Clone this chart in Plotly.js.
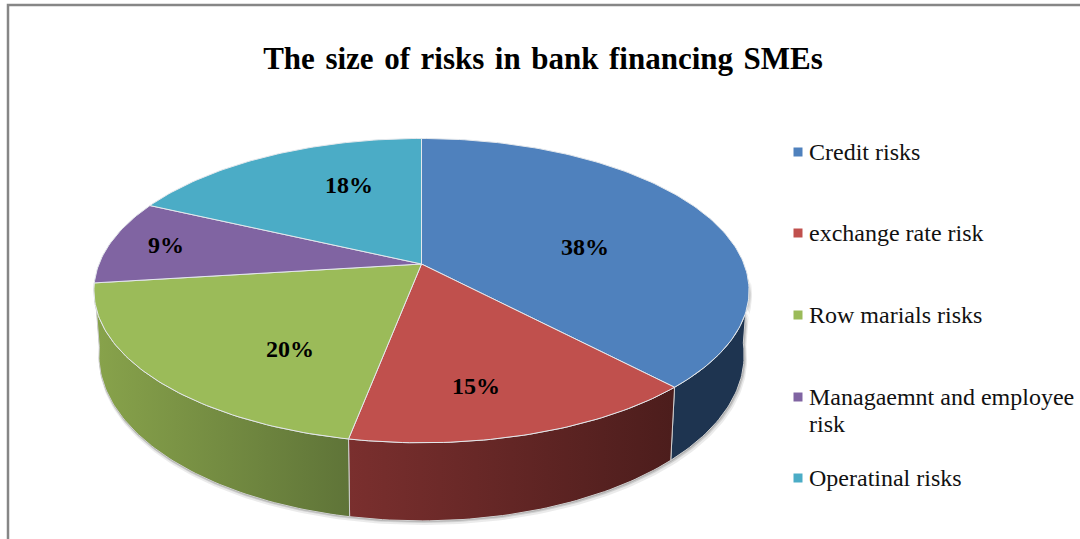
<!DOCTYPE html>
<html>
<head>
<meta charset="utf-8">
<script src="https://cdn.plot.ly/plotly-3.0.1.min.js"></script>
<style>
html,body{margin:0;padding:0;background:#fff}
#chart{width:1080px;height:539px}
.gtitle{word-spacing:2.8px}
</style>
</head>
<body>
<div id="chart"></div>
<script>
// Share of each risk type, in percent
const categories = ['Credit risks', 'exchange rate risk', 'Row marials risks', 'Managaemnt and employee<br>risk', 'Operatinal risks'];
const shares = [38, 15, 20, 9, 18];

// Slice colours and the side-wall shading (left to right)
const sliceColors = ['#4F81BD', '#C0504D', '#9BBB59', '#8064A2', '#4BACC6'];
const wallShades = [['#1E3450', '#1E3450'], ['#7A2F2E', '#4C1D1C'], ['#88A34B', '#5F7438'], ['#4C3B62', '#4C3B62'], ['#2C6A7C', '#2C6A7C']];

// Perspective disc: unit circle mapped on to the page, apex at (cx, cy)
const cx = 421.5, cy = 264, spanX = 322.5, spanY = 147.5, tilt = 0.175;
// Base of the disc relative to its top face
const baseScaleX = 0.985, baseScaleY = 1.09, baseY = 326;
// Arc of the rim facing the viewer, degrees clockwise from twelve o'clock
const rimStart = 96, rimEnd = 262.8;

function topPoint(deg) {
  const t = deg * Math.PI / 180, u = Math.sin(t), v = Math.cos(t), d = 1 + tilt * v;
  return [cx + spanX * u / d, cy - spanY * v / d];
}
function basePoint(deg) {
  const p = topPoint(deg);
  return [cx + baseScaleX * (p[0] - cx), baseY + baseScaleY * (p[1] - cy)];
}
function arc(fn, a, b) {
  const n = Math.max(2, Math.ceil(Math.abs(b - a))), pts = [];
  for (let i = 0; i <= n; i++) pts.push(fn(a + (b - a) * i / n));
  return pts;
}

const total = shares.reduce((s, v) => s + v, 0);
const bounds = [0];
shares.forEach(v => bounds.push(bounds[bounds.length - 1] + v / total * 360));

const traces = [];

// Soft shadow under the rim
[[3, 4, 0.10], [2, 2, 0.16], [1, 1, 0.22]].forEach(([dx, dy, alpha]) => {
  const pts = arc(topPoint, rimStart, rimEnd).concat(arc(basePoint, rimEnd, rimStart));
  traces.push({
    x: pts.map(p => p[0] + dx * (p[0] > cx ? 1 : 0)), y: pts.map(p => p[1] + dy),
    mode: 'lines', line: {width: 0}, fill: 'toself', fillcolor: `rgba(60,60,60,${alpha})`,
    hoverinfo: 'skip', showlegend: false
  });
});

// Side walls, clipped to the visible rim
shares.forEach((v, i) => {
  const a = Math.max(bounds[i], rimStart), b = Math.min(bounds[i + 1], rimEnd);
  if (b <= a) return;
  const pts = arc(topPoint, a, b).concat(arc(basePoint, b, a));
  pts.push(pts[0]);
  const xs = pts.map(p => p[0]);
  traces.push({
    x: xs, y: pts.map(p => p[1]),
    mode: 'lines', line: {color: '#cfcfcf', width: 1}, fill: 'toself',
    fillgradient: {
      type: 'horizontal', start: Math.min(...xs), stop: Math.max(...xs),
      colorscale: [[0, wallShades[i][0]], [1, wallShades[i][1]]]
    },
    hoverinfo: 'skip', showlegend: false
  });
});

// Top face
shares.forEach((v, i) => {
  const pts = [[cx, cy]].concat(arc(topPoint, bounds[i], bounds[i + 1]));
  pts.push(pts[0]);
  traces.push({
    x: pts.map(p => p[0]), y: pts.map(p => p[1]),
    mode: 'lines', line: {color: '#e4e8ec', width: 1}, fill: 'toself', fillcolor: sliceColors[i],
    name: categories[i], hoverinfo: 'name', showlegend: false
  });
});

// Key squares
const keyX = 798, keyY = [152, 233, 315, 397, 478], keyTextX = 807, keyLineGap = 27;
traces.push({
  x: keyY.map(() => keyX), y: keyY, mode: 'markers',
  marker: {symbol: 'square', size: 9, color: sliceColors},
  hoverinfo: 'skip', showlegend: false
});

const serif = '"Liberation Serif", "Times New Roman", serif';

// Percent labels on the slices, then the key text, one annotation per line
const labelAnchors = [[585, 247], [476, 386], [290, 349], [166, 245], [349, 185]];
const annotations = shares.map((v, i) => ({
  x: labelAnchors[i][0], y: labelAnchors[i][1], xref: 'x', yref: 'y',
  text: '<b>' + v + '%</b>', showarrow: false, xanchor: 'center', yanchor: 'middle',
  font: {family: serif, size: 24, color: '#000'}
}));
categories.forEach((c, i) => {
  c.split('<br>').forEach((line, j) => annotations.push({
    x: keyTextX, y: keyY[i] + j * keyLineGap, xref: 'x', yref: 'y',
    text: line, showarrow: false, xanchor: 'left', yanchor: 'middle', align: 'left',
    font: {family: serif, size: 24, color: '#111'}
  }));
});

const layout = {
  width: 1080, height: 539,
  margin: {l: 0, r: 0, t: 0, b: 0},
  paper_bgcolor: '#fff', plot_bgcolor: '#fff',
  showlegend: false,
  title: {
    text: '<b>The size of risks in bank financing SMEs</b>',
    x: 543 / 1080, xanchor: 'center', y: 1 - 58 / 539, yanchor: 'middle',
    font: {family: serif, size: 31, color: '#000'}
  },
  xaxis: {range: [0, 1080], visible: false, fixedrange: true},
  yaxis: {range: [539, 0], visible: false, fixedrange: true},
  annotations,
  shapes: [{
    type: 'path', xref: 'x', yref: 'y', layer: 'above',
    path: 'M 8 539 L 8 5 L 1080 5',
    line: {color: '#868686', width: 2.5}
  }]
};

Plotly.newPlot('chart', traces, layout, {displayModeBar: false, staticPlot: true});
</script>
</body>
</html>
